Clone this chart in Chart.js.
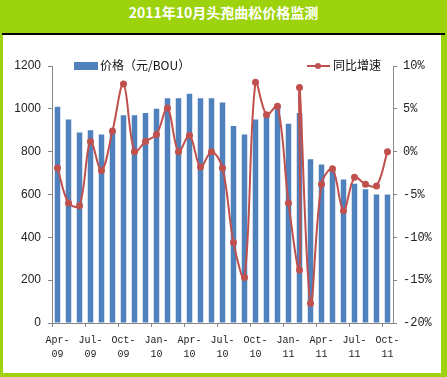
<!DOCTYPE html>
<html>
<head>
<meta charset="utf-8">
<script src="https://cdn.jsdelivr.net/npm/chart.js@4.4.1/dist/chart.umd.min.js"></script>
<style>
  body { margin: 0; }
  #frame { position: relative; width: 447px; height: 377px; background: #9cd30c; overflow: hidden; }
  #title { position: absolute; left: 0; top: 2px; width: 447px; height: 34px; line-height: 34px; text-align: center;
           color: #fff; font: bold 14px "Noto Sans CJK SC", sans-serif; }
  #rule { position: absolute; left: 2px; top: 33px; width: 443px; height: 2px; background: #000; }
  #panel { position: absolute; left: 3px; top: 35px; width: 438px; height: 338px; background: #fff; }
  #panel canvas { position: absolute; left: 0; top: 0; }
  .lg { position: absolute; font: 12px "Noto Sans CJK SC", sans-serif; color: #111; line-height: 14px; }
</style>
</head>
<body>
<div id="frame">
  <div id="title">2011年10月头孢曲松价格监测</div>
  <div id="rule"></div>
  <div id="panel">
    <canvas id="grafico" width="438" height="338"></canvas>
    <div style="position:absolute;left:71px;top:27px;width:24px;height:8px;background:#4f81bd"></div>
    <div class="lg" style="left:97px;top:23px">价格（元/BOU）</div>
    <div style="position:absolute;left:304px;top:30px;width:23px;height:2px;background:#c0504d"></div>
    <div style="position:absolute;left:312px;top:28px;width:6px;height:6px;border-radius:3px;background:#c0504d"></div>
    <div class="lg" style="left:330px;top:23px">同比增速</div>
  </div>
</div>
<script>
// meses (eje x)
const months = ['Apr-09','May-09','Jun-09','Jul-09','Aug-09','Sep-09','Oct-09','Nov-09','Dec-09',
  'Jan-10','Feb-10','Mar-10','Apr-10','May-10','Jun-10','Jul-10','Aug-10','Sep-10','Oct-10','Nov-10','Dec-10',
  'Jan-11','Feb-11','Mar-11','Apr-11','May-11','Jun-11','Jul-11','Aug-11','Sep-11','Oct-11'];

// precio (元/BOU)
const prices = [1010, 950, 890, 900, 880, 900, 970, 970, 980,
  1000, 1050, 1050, 1070, 1050, 1050, 1030, 920, 880, 950, 970, 1010,
  930, 980, 765, 740, 715, 670, 650, 625, 600, 600];

// crecimiento interanual (%) - Feb-11 tiene dos puntos en el original
const growthMonths = ['Apr-09','May-09','Jun-09','Jul-09','Aug-09','Sep-09','Oct-09','Nov-09','Dec-09',
  'Jan-10','Feb-10','Mar-10','Apr-10','May-10','Jun-10','Jul-10','Aug-10','Sep-10','Oct-10','Nov-10','Dec-10',
  'Jan-11','Feb-11','Feb-11','Mar-11','Apr-11','May-11','Jun-11','Jul-11','Aug-11','Sep-11','Oct-11'];
const growth = [-1.9, -6.0, -6.3, 1.2, -2.2, 2.4, 7.9, 0.0, 1.2,
  2.0, 5.1, 0.0, 1.9, -1.8, 0.0, -1.9, -10.6, -14.7, 8.1, 4.3, 5.3,
  -6.0, -13.8, 7.5, -17.7, -3.8, -2.0, -6.9, -3.0, -3.8, -4.0, 0.0];

// ticks
const priceTicks = { min: 0, max: 1200, step: 200 };
const growthTicks = { min: -20, max: 10, step: 5 };

const gris = '#868686';

const ctx = document.getElementById('grafico').getContext('2d');
new Chart(ctx, {
  data: {
    labels: months,
    datasets: [
      {
        type: 'line',
        label: '同比增速',
        data: growth.map((v, i) => ({ x: growthMonths[i], y: v })),
        yAxisID: 'y1',
        borderColor: '#c0504d',
        backgroundColor: '#c0504d',
        borderWidth: 2,
        pointRadius: 2.5,
        pointHoverRadius: 2.5,
        tension: 0.35,
        order: 0
      },
      {
        type: 'bar',
        label: '价格（元/BOU）',
        data: prices,
        yAxisID: 'y',
        backgroundColor: '#4f81bd',
        barPercentage: 0.5,
        categoryPercentage: 1,
        order: 1
      }
    ]
  },
  options: {
    responsive: false,
    animation: false,
    layout: { padding: { top: 31, left: 0, right: 0, bottom: 0 } },
    plugins: { legend: { display: false }, tooltip: { enabled: false } },
    scales: {
      x: {
        type: 'category',
        offset: true,
        grid: {
          offset: true,
          drawOnChartArea: false,
          tickLength: 4,
          color: c => (c.index % 3 === 0 ? gris : 'rgba(0,0,0,0)')
        },
        border: { color: gris },
        ticks: {
          autoSkip: false,
          maxRotation: 0,
          padding: 6,
          color: '#222',
          font: { family: 'Liberation Mono', size: 10, lineHeight: 1.43 },
          callback: (v, i) => (i % 3 === 0 ? [months[i].slice(0, 4), months[i].slice(4)] : '')
        },
        afterFit: s => { s.height = 50; }
      },
      y: {
        position: 'left',
        min: priceTicks.min,
        max: priceTicks.max,
        grid: { drawOnChartArea: false, tickLength: 4, color: gris },
        border: { color: gris },
        ticks: {
          stepSize: priceTicks.step,
          padding: 7,
          color: '#222',
          font: { family: 'Liberation Sans', size: 12 },
          callback: v => String(v)
        },
        afterFit: s => { s.width = 49; }
      },
      y1: {
        position: 'right',
        min: growthTicks.min,
        max: growthTicks.max,
        grid: { drawOnChartArea: false, tickLength: 4, color: gris },
        border: { color: gris },
        ticks: {
          stepSize: growthTicks.step,
          padding: 6,
          color: '#222',
          font: { family: 'Liberation Mono', size: 12 },
          callback: v => v + '%'
        },
        afterFit: s => { s.width = 48; }
      }
    }
  }
});
</script>
</body>
</html>
